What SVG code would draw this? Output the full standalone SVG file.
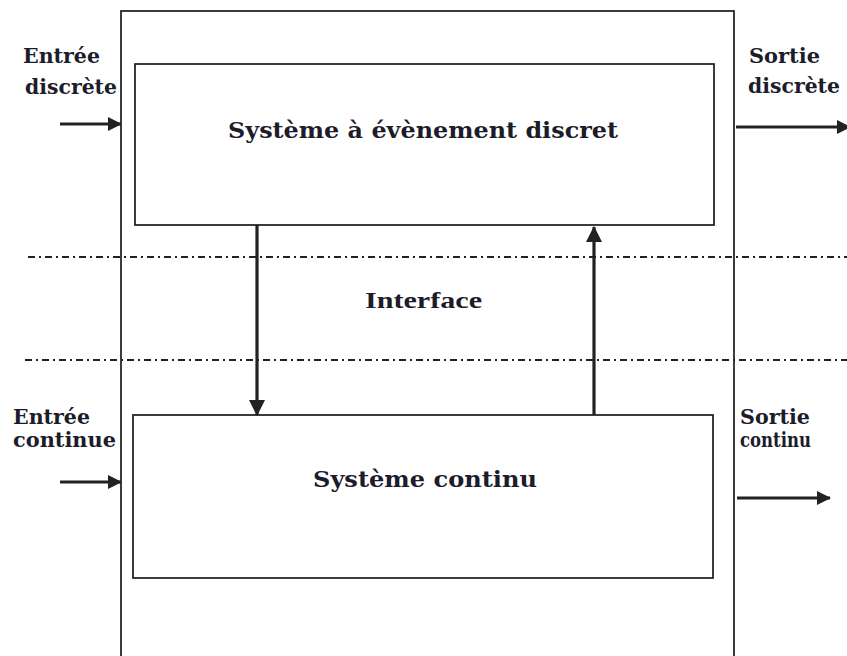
<svg xmlns="http://www.w3.org/2000/svg" width="847" height="656" viewBox="0 0 847 656">
<style>
.box{fill:none;stroke:#1a1a1a;stroke-width:1.7}
.lbl{font-family:"DejaVu Serif","Liberation Serif",serif;font-weight:bold;font-size:19.5px;fill:#1c1c2a}
.ttl{font-family:"DejaVu Serif","Liberation Serif",serif;font-weight:bold;font-size:22.5px;fill:#1c1c2a}
.itf{font-family:"Liberation Serif",serif;font-weight:bold;font-size:24px;fill:#1c1c2a}
.dash{stroke:#222;stroke-width:2.2;stroke-dasharray:7 4 2 4;fill:none}
.arr{stroke:#222;stroke-width:3.2;fill:none}
</style>
<defs>
<marker id="ah" viewBox="0 0 14 14" refX="13" refY="7" markerWidth="14" markerHeight="14" markerUnits="userSpaceOnUse" orient="auto">
<path d="M0,0 L14,7 L0,14 Z" fill="#222"/>
</marker>
<marker id="ahv" viewBox="0 0 16 16" refX="15" refY="8" markerWidth="16" markerHeight="16" markerUnits="userSpaceOnUse" orient="auto">
<path d="M0,0 L16,8 L0,16 Z" fill="#222"/>
</marker>
</defs>
<rect width="847" height="656" fill="#fff"/>
<g id="outer"><rect class="box" x="121" y="11" width="613" height="660"/></g>
<g id="interface-zone">
<line class="dash" x1="28" y1="257" x2="847" y2="257"/>
<line class="dash" x1="25" y1="360" x2="847" y2="360"/>
<text class="itf" x="365" y="308" textLength="117" lengthAdjust="spacingAndGlyphs">Interface</text>
</g>
<g id="sed">
<rect class="box" x="135" y="64" width="579" height="161"/>
<text class="ttl" x="228" y="138" textLength="390" lengthAdjust="spacingAndGlyphs">Système à évènement discret</text>
</g>
<g id="sc">
<rect class="box" x="133" y="415" width="580" height="163"/>
<text class="ttl" x="313" y="487" textLength="224" lengthAdjust="spacingAndGlyphs">Système continu</text>
</g>
<g id="labels">
<text class="lbl" x="23" y="63" textLength="77" lengthAdjust="spacingAndGlyphs">Entrée</text>
<text class="lbl" x="25" y="94" textLength="92" lengthAdjust="spacingAndGlyphs">discrète</text>
<text class="lbl" x="749" y="63" textLength="71" lengthAdjust="spacingAndGlyphs">Sortie</text>
<text class="lbl" x="748" y="93" textLength="92" lengthAdjust="spacingAndGlyphs">discrète</text>
<text class="lbl" x="13" y="424" textLength="77" lengthAdjust="spacingAndGlyphs">Entrée</text>
<text class="lbl" x="13" y="447" textLength="103" lengthAdjust="spacingAndGlyphs">continue</text>
<text class="lbl" x="740" y="424" textLength="70" lengthAdjust="spacingAndGlyphs">Sortie</text>
<text class="lbl" x="740" y="447" textLength="71" lengthAdjust="spacingAndGlyphs">continu</text>
</g>
<g id="connectors">
<line class="arr" x1="60" y1="124" x2="121" y2="124" marker-end="url(#ah)"/>
<line class="arr" x1="736" y1="127" x2="850" y2="127" marker-end="url(#ah)"/>
<line class="arr" x1="60" y1="482" x2="121" y2="482" marker-end="url(#ah)"/>
<line class="arr" x1="737" y1="498" x2="830" y2="498" marker-end="url(#ah)"/>
<line class="arr" x1="257" y1="225" x2="257" y2="415" marker-end="url(#ahv)"/>
<line class="arr" x1="594" y1="415" x2="594" y2="227" marker-end="url(#ahv)"/>
</g>
</svg>
